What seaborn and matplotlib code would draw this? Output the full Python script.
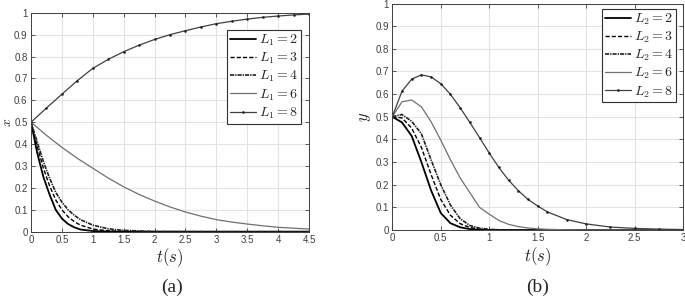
import matplotlib
matplotlib.use("Agg")
import matplotlib.pyplot as plt
import numpy as np
import pandas as pd
import seaborn as sns

sns.set_theme(style="ticks")
plt.rcParams["font.family"] = ["Liberation Sans", "DejaVu Sans"]
plt.rcParams["mathtext.fontset"] = "cm"

# (a) respuesta x(t) para distintos L1
t_a_fast = [0, 0.1, 0.2, 0.3, 0.4, 0.5, 0.6, 0.7, 0.8, 1.0, 1.25, 1.5, 2.0, 3.0, 4.5]
x_L1_2 = [0.5, 0.36, 0.25, 0.17, 0.10, 0.06, 0.035, 0.02, 0.01, 0.003, 0.001, 0, 0, 0, 0]
x_L1_3 = [0.5, 0.39, 0.29, 0.21, 0.145, 0.10, 0.068, 0.046, 0.03, 0.012, 0.004, 0.001, 0, 0, 0]
x_L1_4 = [0.5, 0.41, 0.32, 0.245, 0.18, 0.135, 0.10, 0.075, 0.055, 0.03, 0.013, 0.006, 0.001, 0, 0]

t_a_slow = [0, 0.25, 0.5, 0.75, 1.0, 1.25, 1.5, 1.75, 2.0, 2.25, 2.5, 2.75, 3.0,
            3.25, 3.5, 3.75, 4.0, 4.25, 4.5]
x_L1_6 = [0.5, 0.44, 0.385, 0.335, 0.29, 0.245, 0.205, 0.17, 0.14, 0.113, 0.09,
          0.071, 0.055, 0.044, 0.035, 0.027, 0.02, 0.016, 0.012]
x_L1_8 = [0.5, 0.565, 0.628, 0.69, 0.746, 0.787, 0.822, 0.852, 0.878, 0.9, 0.918,
          0.935, 0.95, 0.961, 0.971, 0.979, 0.985, 0.99, 0.994]

# (b) respuesta y(t) para distintos L2
t_b = [0, 0.1, 0.2, 0.3, 0.4, 0.5, 0.6, 0.7, 0.8, 0.9, 1.0, 1.1, 1.2, 1.3, 1.4,
       1.5, 1.6, 1.8, 2.0, 2.25, 2.5, 2.75, 3.0]
y_L2_2 = [0.5, 0.475, 0.415, 0.30, 0.175, 0.075, 0.03, 0.012, 0.004, 0.001, 0,
          0, 0, 0, 0, 0, 0, 0, 0, 0, 0, 0, 0]
y_L2_3 = [0.5, 0.495, 0.45, 0.365, 0.245, 0.135, 0.065, 0.028, 0.011, 0.004, 0.001,
          0, 0, 0, 0, 0, 0, 0, 0, 0, 0, 0, 0]
y_L2_4 = [0.5, 0.51, 0.48, 0.425, 0.31, 0.20, 0.11, 0.05, 0.02, 0.008, 0.003,
          0.001, 0, 0, 0, 0, 0, 0, 0, 0, 0, 0, 0]
y_L2_6 = [0.5, 0.566, 0.574, 0.544, 0.478, 0.397, 0.31, 0.23, 0.165, 0.10, 0.07,
          0.042, 0.025, 0.015, 0.009, 0.005, 0.003, 0.001, 0, 0, 0, 0, 0]
y_L2_8 = [0.5, 0.613, 0.666, 0.685, 0.676, 0.646, 0.599, 0.54, 0.475, 0.408, 0.34,
          0.276, 0.22, 0.174, 0.135, 0.106, 0.08, 0.046, 0.027, 0.013, 0.007, 0.004, 0.002]

# estilos tipo MATLAB
estilos = [
    dict(color="black", linestyle="-", linewidth=1.3),
    dict(color="black", linestyle=(0, (3, 1.5)), linewidth=1.0),
    dict(color="#202020", linestyle=(0, (2.5, 0.6, 0.8, 0.6)), linewidth=1.2),
    dict(color="#707070", linestyle="-", linewidth=0.9),
    dict(color="#404040", linestyle="-", linewidth=0.9, marker=".", markersize=2.8,
         markeredgecolor="#202020", markerfacecolor="#202020", markeredgewidth=0.4),
]

fig = plt.figure(figsize=(6.85, 3.02), dpi=100)
ax_a = fig.add_axes([0.0453, 0.2328, 0.4058, 0.725])
ax_b = fig.add_axes([0.5727, 0.2384, 0.4244, 0.75])

series_a = [(t_a_fast, x_L1_2, 2), (t_a_fast, x_L1_3, 3), (t_a_fast, x_L1_4, 4),
            (t_a_slow, x_L1_6, 6), (t_a_slow, x_L1_8, 8)]
series_b = [(t_b, y_L2_2, 2), (t_b, y_L2_3, 3), (t_b, y_L2_4, 4),
            (t_b, y_L2_6, 6), (t_b, y_L2_8, 8)]

for (t, v, L), est in zip(series_a, estilos):
    sns.lineplot(x=t, y=v, ax=ax_a, label=rf"$L_1 = {L}$", **est)
for (t, v, L), est in zip(series_b, estilos):
    sns.lineplot(x=t, y=v, ax=ax_b, label=rf"$L_2 = {L}$", **est)


def formato(ax, xmax, ylab):
    ax.set_xlim(0, xmax)
    ax.set_ylim(0, 1)
    xt = np.arange(0, xmax + 0.01, 0.5)
    ax.set_xticks(xt)
    ax.set_xticklabels([f"{v:g}" for v in xt])
    yt = np.arange(0, 1.01, 0.1)
    ax.set_yticks(yt)
    ax.set_yticklabels([f"{v:.1f}".rstrip("0").rstrip(".") if v > 0 else "0" for v in yt])
    ax.grid(True, color="#e3e3e3", linewidth=0.8)
    ax.set_axisbelow(True)
    for s in ax.spines.values():
        s.set_color("#404040")
        s.set_linewidth(0.7)
    ax.tick_params(direction="in", top=True, right=True, length=3, width=0.6,
                   labelsize=7, colors="#404040", pad=2.5)
    ax.set_xlabel(r"$t(s)$", fontsize=12, labelpad=1)
    ax.set_ylabel(ylab, fontsize=12, labelpad=2)


formato(ax_a, 4.5, r"$x$")
formato(ax_b, 3, r"$y$")
ax_a.yaxis.label.set_fontsize(10)
ax_a.yaxis.set_label_coords(14 / 685, 0.5 * (0.2328 * 2 + 0.725), transform=fig.transFigure)

for ax, anchor in [(ax_a, (0.9715, 0.921)), (ax_b, (0.976, 0.976))]:
    leg = ax.legend(loc="upper right", bbox_to_anchor=anchor, borderaxespad=0,
                    fontsize=10, handlelength=1.9, handletextpad=0.2,
                    labelspacing=0.2, borderpad=0.2, fancybox=False,
                    framealpha=1, edgecolor="#303030")
    leg.get_frame().set_linewidth(0.8)

fig.text(172 / 685, 1 - 287 / 302, "(a)", ha="center", va="center", fontsize=14,
         family=["Liberation Serif", "DejaVu Serif"])
fig.text(538 / 685, 1 - 287 / 302, "(b)", ha="center", va="center", fontsize=14,
         family=["Liberation Serif", "DejaVu Serif"])

fig.savefig("out.png", dpi=100)
